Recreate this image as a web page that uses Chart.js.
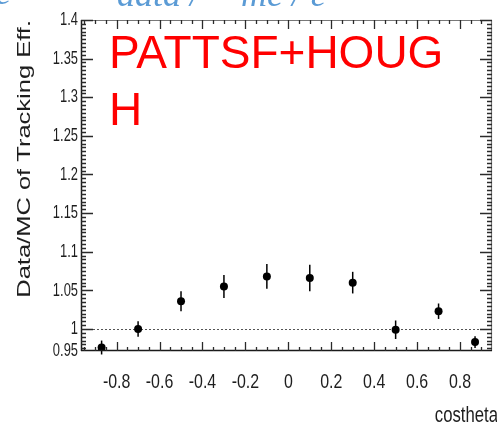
<!DOCTYPE html>
<html><head><meta charset="utf-8">
<script src="https://cdn.jsdelivr.net/npm/chart.js@4/dist/chart.umd.min.js"></script>
<style>html,body{margin:0;padding:0;background:#fff;overflow:hidden}#wrap{width:497px;height:424px;position:relative}</style>
</head><body><div id="wrap"><canvas id="c" width="497" height="424"></canvas></div>
<script>
// ---- data ----
const costheta = [-0.87, -0.70, -0.50, -0.30, -0.10, 0.10, 0.30, 0.50, 0.70, 0.87];
const ratio    = [0.976, 1.000, 1.036, 1.055, 1.068, 1.066, 1.060, 0.999, 1.023, 0.983];
const ratioErr = [0.009, 0.010, 0.013, 0.015, 0.016, 0.017, 0.014, 0.012, 0.010, 0.0075];
const xTickValues = [-0.8, -0.6, -0.4, -0.2, 0, 0.2, 0.4, 0.6, 0.8];
const xTickLabels = ['-0.8', '-0.6', '-0.4', '-0.2', '0', '0.2', '0.4', '0.6', '0.8'];
const Y_MIN = 0.9715, Y_MAX = 1.4, X_MIN = -0.966, X_MAX = 0.949;
const yTickValues = [Y_MIN, 1, 1.05, 1.1, 1.15, 1.2, 1.25, 1.3, 1.35, 1.4];
const yTickLabels = ['0.95', '1', '1.05', '1.1', '1.15', '1.2', '1.25', '1.3', '1.35', '1.4'];
const yTitle = 'Data/MC of Tracking Eff.';
const xTitle = 'costheta';
const overlayLines = ['PATTSF+HOUG', 'H'];

const SANS = "'Liberation Sans', Arial, sans-serif";

function squeezedText(ctx, text, x, y, sx, align) {
  ctx.save();
  ctx.translate(x, y);
  ctx.scale(sx, 1);
  ctx.textAlign = align;
  ctx.fillText(text, 0, 0);
  ctx.restore();
}

const refLine = {
  id: 'refLine',
  beforeDatasetsDraw(chart) {
    const {ctx, chartArea: a, scales: {y}} = chart;
    const py = Math.round(y.getPixelForValue(1)) + 0.5;
    ctx.save();
    ctx.strokeStyle = '#555'; ctx.lineWidth = 1; ctx.setLineDash([2, 2]);
    ctx.beginPath(); ctx.moveTo(a.left, py); ctx.lineTo(a.right, py); ctx.stroke();
    ctx.restore();
  }
};

const errorBars = {
  id: 'errorBars',
  beforeDatasetsDraw(chart) {
    const {ctx, scales: {x, y}} = chart;
    ctx.save(); ctx.strokeStyle = '#000'; ctx.lineWidth = 1.5; ctx.setLineDash([]);
    costheta.forEach((cx, i) => {
      const px = x.getPixelForValue(cx);
      ctx.beginPath();
      ctx.moveTo(px, y.getPixelForValue(ratio[i] - ratioErr[i]));
      ctx.lineTo(px, y.getPixelForValue(ratio[i] + ratioErr[i]));
      ctx.stroke();
    });
    ctx.restore();
  }
};

const frame = {
  id: 'frame',
  afterDraw(chart) {
    const {ctx, chartArea: a, scales: {x, y}} = chart;
    ctx.save();
    ctx.setLineDash([]);
    // frame
    ctx.lineWidth = 1.2;
    ctx.strokeStyle = '#777';
    ctx.beginPath();
    ctx.moveTo(a.left, a.top + 0.5); ctx.lineTo(a.right, a.top + 0.5);
    ctx.moveTo(a.right - 0.5, a.top); ctx.lineTo(a.right - 0.5, a.bottom);
    ctx.stroke();
    ctx.strokeStyle = '#1a1a1a';
    ctx.lineWidth = 1.5;
    ctx.beginPath();
    ctx.moveTo(a.left + 0.5, a.top); ctx.lineTo(a.left + 0.5, a.bottom);
    ctx.moveTo(a.left, a.bottom - 0.5); ctx.lineTo(a.right, a.bottom - 0.5);
    ctx.stroke();
    // y ticks (inside, both sides)
    ctx.strokeStyle = '#2a2a2a';
    ctx.lineWidth = 1.3;
    ctx.beginPath();
    for (let k = 0; k < 200; k++) {
      const v = Y_MAX - k * 0.005;
      if (v < Y_MIN) break;
      const major = Math.abs(v * 20 - Math.round(v * 20)) < 1e-6;
      const len = major ? 12 : 5;
      const py = Math.round(y.getPixelForValue(v)) + 0.5;
      ctx.moveTo(a.left, py); ctx.lineTo(a.left + len, py);
      ctx.moveTo(a.right, py); ctx.lineTo(a.right - len, py);
    }
    // x ticks (inside, top and bottom)
    for (let k = 0; k < 200; k++) {
      const v = -0.95 + k * 0.05;
      if (v > X_MAX) break;
      const major = Math.abs(v * 5 - Math.round(v * 5)) < 1e-6;
      const len = major ? 9 : 4;
      const px = Math.round(x.getPixelForValue(v)) + 0.5;
      ctx.moveTo(px, a.bottom); ctx.lineTo(px, a.bottom - len);
      ctx.moveTo(px, a.top); ctx.lineTo(px, a.top + len);
    }
    ctx.stroke();
    // tick labels
    ctx.fillStyle = '#1e1e1e';
    ctx.textBaseline = 'middle';
    ctx.font = '19px ' + SANS;
    yTickValues.forEach((v, i) => {
      squeezedText(ctx, yTickLabels[i], a.left - 3, y.getPixelForValue(v), 0.68, 'right');
    });
    ctx.font = '21px ' + SANS;
    xTickValues.forEach((v, i) => {
      squeezedText(ctx, xTickLabels[i], x.getPixelForValue(v), a.bottom + 31, 0.76, 'center');
    });
    // axis titles
    ctx.save();
    ctx.translate(25, a.top);
    ctx.scale(0.72, 1);
    ctx.rotate(-Math.PI / 2);
    ctx.font = '25.5px ' + SANS;
    ctx.textAlign = 'right'; ctx.textBaseline = 'middle';
    ctx.fillText(yTitle, 0, 0);
    ctx.restore();
    ctx.font = '22px ' + SANS;
    ctx.textBaseline = 'alphabetic';
    squeezedText(ctx, xTitle, 498, 422, 0.76, 'right');
    // red overlay text
    ctx.fillStyle = '#ff0000';
    ctx.font = '46px ' + SANS;
    ctx.textAlign = 'left';
    ctx.fillText(overlayLines[0], 109, 68);
    ctx.fillText(overlayLines[1], 109, 125);
    // cut-off blue caption at top
    ctx.fillStyle = '#5b9bd5';
    ctx.font = "italic 36px 'Liberation Serif', serif";
    ctx.fillText('ε =', -4, 4);
    ctx.fillText('data /', 117, 6);
    ctx.fillText('mc / ε', 241, 6);
    ctx.restore();
  }
};

new Chart(document.getElementById('c'), {
  type: 'scatter',
  data: {
    datasets: [{
      data: costheta.map((c, i) => ({x: c, y: ratio[i]})),
      backgroundColor: '#000', borderColor: '#000', borderWidth: 0,
      pointRadius: 4, pointHoverRadius: 4, pointStyle: 'circle'
    }]
  },
  options: {
    responsive: false, animation: false, devicePixelRatio: 1,
    layout: {padding: {left: 0, right: 5, top: 20, bottom: 0}},
    plugins: {legend: {display: false}, tooltip: {enabled: false}},
    scales: {
      x: {
        type: 'linear', min: X_MIN, max: X_MAX,
        grid: {display: false, drawTicks: false}, border: {display: false},
        afterFit(s) { s.height = 73; },
        ticks: {display: false}
      },
      y: {
        type: 'linear', min: Y_MIN, max: Y_MAX,
        grid: {display: false, drawTicks: false}, border: {display: false},
        afterFit(s) { s.width = 81; },
        ticks: {display: false}
      }
    }
  },
  plugins: [refLine, errorBars, frame]
});
</script>
</body></html>
